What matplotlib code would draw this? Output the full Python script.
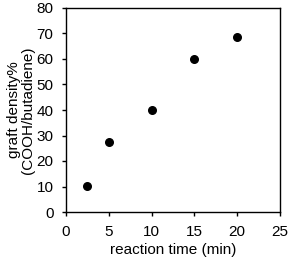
import matplotlib
matplotlib.use("Agg")
import matplotlib.pyplot as plt

plt.rcParams['font.family'] = ['Liberation Sans', 'DejaVu Sans']

reaction_time = [2.5, 5, 10, 15, 20]
graft_density = [10.3, 27.3, 40.0, 60.0, 68.8]

fig = plt.figure(figsize=(2.9, 2.6), dpi=100)
ax = fig.add_axes([66 / 290, 48 / 260, 214 / 290, 204 / 260])

ax.scatter(reaction_time, graft_density, s=30, color='black', zorder=3)

ax.set_xlim(0, 25)
ax.set_ylim(0, 80)
ax.set_xticks(range(0, 26, 5))
ax.set_yticks(range(0, 81, 10))
ax.tick_params(direction='out', length=3, width=1, labelsize=11, pad=6)
for s in ax.spines.values():
    s.set_linewidth(1)

ax.set_xlabel('reaction time (min)', fontsize=11, labelpad=3)
ax.set_ylabel('graft density%\n(COOH/butadiene)', fontsize=11, labelpad=1, linespacing=1.0)

fig.savefig('out.png', dpi=100)
